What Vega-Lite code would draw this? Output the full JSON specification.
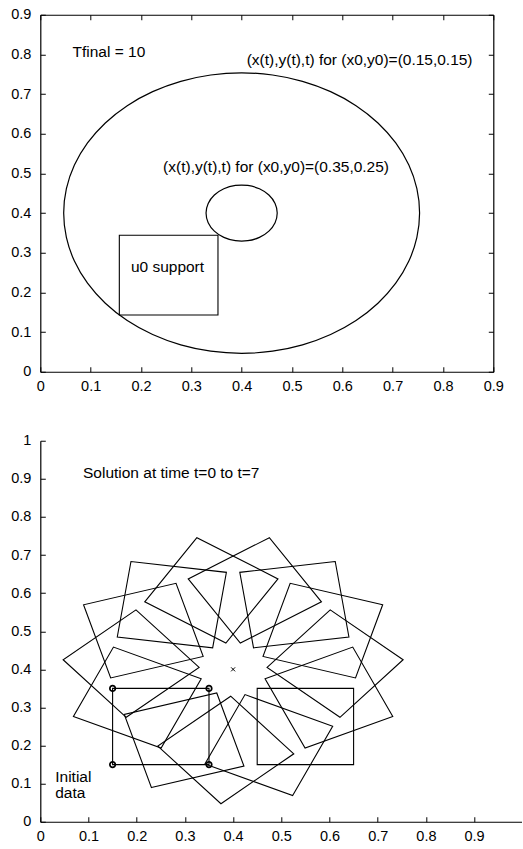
{
  "$schema": "https://vega.github.io/schema/vega-lite/v6.json",
  "autosize": {"type": "pad"},
  "padding": {"left": 10.3, "top": 6.75, "right": 0, "bottom": 0},
  "background": "white",
  "spacing": 69,
  "bounds": "flush",
  "config": {
    "font": "Liberation Sans",
    "view": {"stroke": null},
    "axis": {
      "domainColor": "#000",
      "domainWidth": 1.2,
      "tickColor": "#000",
      "tickWidth": 1,
      "tickSize": -5,
      "labelColor": "#000",
      "labelFont": "Liberation Sans",
      "labelFontSize": 14.5,
      "labelFlush": false,
      "labelOverlap": false,
      "grid": false
    },
    "axisX": {"labelPadding": 12.5},
    "axisY": {"labelPadding": 14.5},
    "text": {"font": "Liberation Sans", "fontSize": 15.5, "color": "#000", "align": "left", "baseline": "middle"}
  },
  "datasets": {
    "ringOuter": [
      {"deg": 0, "x": 0.75355, "y": 0.4},
      {"deg": 10, "x": 0.74818, "y": 0.46139},
      {"deg": 20, "x": 0.73223, "y": 0.52092},
      {"deg": 30, "x": 0.70619, "y": 0.57678},
      {"deg": 40, "x": 0.67084, "y": 0.62726},
      {"deg": 50, "x": 0.62726, "y": 0.67084},
      {"deg": 60, "x": 0.57678, "y": 0.70619},
      {"deg": 70, "x": 0.52092, "y": 0.73223},
      {"deg": 80, "x": 0.46139, "y": 0.74818},
      {"deg": 90, "x": 0.4, "y": 0.75355},
      {"deg": 100, "x": 0.33861, "y": 0.74818},
      {"deg": 110, "x": 0.27908, "y": 0.73223},
      {"deg": 120, "x": 0.22322, "y": 0.70619},
      {"deg": 130, "x": 0.17274, "y": 0.67084},
      {"deg": 140, "x": 0.12916, "y": 0.62726},
      {"deg": 150, "x": 0.09381, "y": 0.57678},
      {"deg": 160, "x": 0.06777, "y": 0.52092},
      {"deg": 170, "x": 0.05182, "y": 0.46139},
      {"deg": 180, "x": 0.04645, "y": 0.4},
      {"deg": 190, "x": 0.05182, "y": 0.33861},
      {"deg": 200, "x": 0.06777, "y": 0.27908},
      {"deg": 210, "x": 0.09381, "y": 0.22322},
      {"deg": 220, "x": 0.12916, "y": 0.17274},
      {"deg": 230, "x": 0.17274, "y": 0.12916},
      {"deg": 240, "x": 0.22322, "y": 0.09381},
      {"deg": 250, "x": 0.27908, "y": 0.06777},
      {"deg": 260, "x": 0.33861, "y": 0.05182},
      {"deg": 270, "x": 0.4, "y": 0.04645},
      {"deg": 280, "x": 0.46139, "y": 0.05182},
      {"deg": 290, "x": 0.52092, "y": 0.06777},
      {"deg": 300, "x": 0.57678, "y": 0.09381},
      {"deg": 310, "x": 0.62726, "y": 0.12916},
      {"deg": 320, "x": 0.67084, "y": 0.17274},
      {"deg": 330, "x": 0.70619, "y": 0.22322},
      {"deg": 340, "x": 0.73223, "y": 0.27908},
      {"deg": 350, "x": 0.74818, "y": 0.33861}
    ],
    "ringInner": [
      {"deg": 0, "x": 0.47071, "y": 0.4},
      {"deg": 20, "x": 0.46645, "y": 0.42418},
      {"deg": 40, "x": 0.45417, "y": 0.44545},
      {"deg": 60, "x": 0.43536, "y": 0.46124},
      {"deg": 80, "x": 0.41228, "y": 0.46964},
      {"deg": 100, "x": 0.38772, "y": 0.46964},
      {"deg": 120, "x": 0.36464, "y": 0.46124},
      {"deg": 140, "x": 0.34583, "y": 0.44545},
      {"deg": 160, "x": 0.33355, "y": 0.42418},
      {"deg": 180, "x": 0.32929, "y": 0.4},
      {"deg": 200, "x": 0.33355, "y": 0.37582},
      {"deg": 220, "x": 0.34583, "y": 0.35455},
      {"deg": 240, "x": 0.36464, "y": 0.33876},
      {"deg": 260, "x": 0.38772, "y": 0.33036},
      {"deg": 280, "x": 0.41228, "y": 0.33036},
      {"deg": 300, "x": 0.43536, "y": 0.33876},
      {"deg": 320, "x": 0.45417, "y": 0.35455},
      {"deg": 340, "x": 0.46645, "y": 0.37582}
    ],
    "support": [
      {"i": 0, "x": 0.157, "y": 0.143},
      {"i": 1, "x": 0.353, "y": 0.143},
      {"i": 2, "x": 0.353, "y": 0.344},
      {"i": 3, "x": 0.157, "y": 0.344}
    ],
    "notesTop": [
      {"x": 0.064, "y": 0.805, "label": "Tfinal = 10"},
      {"x": 0.410, "y": 0.787, "label": "(x(t),y(t),t) for (x0,y0)=(0.15,0.15)"},
      {"x": 0.244, "y": 0.517, "label": "(x(t),y(t),t) for (x0,y0)=(0.35,0.25)"},
      {"x": 0.180, "y": 0.264, "label": "u0 support"}
    ],
    "squares": [
      {"t": 0, "i": 0, "x": 0.15, "y": 0.15},
      {"t": 0, "i": 1, "x": 0.35, "y": 0.15},
      {"t": 0, "i": 2, "x": 0.35, "y": 0.35},
      {"t": 0, "i": 3, "x": 0.15, "y": 0.35},
      {"t": 0.5, "i": 0, "x": 0.0687, "y": 0.2764},
      {"t": 0.5, "i": 1, "x": 0.2507, "y": 0.1934},
      {"t": 0.5, "i": 2, "x": 0.3338, "y": 0.3753},
      {"t": 0.5, "i": 3, "x": 0.1518, "y": 0.4584},
      {"t": 1, "i": 0, "x": 0.0474, "y": 0.4252},
      {"t": 1, "i": 1, "x": 0.1783, "y": 0.2741},
      {"t": 1, "i": 2, "x": 0.3295, "y": 0.4050},
      {"t": 1, "i": 3, "x": 0.1985, "y": 0.5562},
      {"t": 1.5, "i": 0, "x": 0.0897, "y": 0.5694},
      {"t": 1.5, "i": 1, "x": 0.1460, "y": 0.3775},
      {"t": 1.5, "i": 2, "x": 0.3379, "y": 0.4339},
      {"t": 1.5, "i": 3, "x": 0.2816, "y": 0.6258},
      {"t": 2, "i": 0, "x": 0.1881, "y": 0.6830},
      {"t": 2, "i": 1, "x": 0.1597, "y": 0.4851},
      {"t": 2, "i": 2, "x": 0.3576, "y": 0.4566},
      {"t": 2, "i": 3, "x": 0.3861, "y": 0.6546},
      {"t": 2.5, "i": 0, "x": 0.3249, "y": 0.7455},
      {"t": 2.5, "i": 1, "x": 0.2167, "y": 0.5772},
      {"t": 2.5, "i": 2, "x": 0.3850, "y": 0.4691},
      {"t": 2.5, "i": 3, "x": 0.4931, "y": 0.6374},
      {"t": 3, "i": 0, "x": 0.4752, "y": 0.7455},
      {"t": 3, "i": 1, "x": 0.3069, "y": 0.6374},
      {"t": 3, "i": 2, "x": 0.4150, "y": 0.4691},
      {"t": 3, "i": 3, "x": 0.5833, "y": 0.5772},
      {"t": 3.5, "i": 0, "x": 0.6119, "y": 0.6830},
      {"t": 3.5, "i": 1, "x": 0.4139, "y": 0.6546},
      {"t": 3.5, "i": 2, "x": 0.4424, "y": 0.4566},
      {"t": 3.5, "i": 3, "x": 0.6403, "y": 0.4851},
      {"t": 4, "i": 0, "x": 0.7103, "y": 0.5694},
      {"t": 4, "i": 1, "x": 0.5184, "y": 0.6258},
      {"t": 4, "i": 2, "x": 0.4621, "y": 0.4339},
      {"t": 4, "i": 3, "x": 0.6540, "y": 0.3775},
      {"t": 4.5, "i": 0, "x": 0.7527, "y": 0.4252},
      {"t": 4.5, "i": 1, "x": 0.6015, "y": 0.5562},
      {"t": 4.5, "i": 2, "x": 0.4705, "y": 0.4050},
      {"t": 4.5, "i": 3, "x": 0.6217, "y": 0.2741},
      {"t": 5, "i": 0, "x": 0.7313, "y": 0.2764},
      {"t": 5, "i": 1, "x": 0.6482, "y": 0.4584},
      {"t": 5, "i": 2, "x": 0.4663, "y": 0.3753},
      {"t": 5, "i": 3, "x": 0.5493, "y": 0.1934},
      {"t": 5.5, "i": 0, "x": 0.65, "y": 0.15},
      {"t": 5.5, "i": 1, "x": 0.65, "y": 0.35},
      {"t": 5.5, "i": 2, "x": 0.45, "y": 0.35},
      {"t": 5.5, "i": 3, "x": 0.45, "y": 0.15},
      {"t": 6, "i": 0, "x": 0.5236, "y": 0.0687},
      {"t": 6, "i": 1, "x": 0.6066, "y": 0.2507},
      {"t": 6, "i": 2, "x": 0.4247, "y": 0.3338},
      {"t": 6, "i": 3, "x": 0.3416, "y": 0.1518},
      {"t": 6.5, "i": 0, "x": 0.3748, "y": 0.0474},
      {"t": 6.5, "i": 1, "x": 0.5259, "y": 0.1783},
      {"t": 6.5, "i": 2, "x": 0.3950, "y": 0.3295},
      {"t": 6.5, "i": 3, "x": 0.2438, "y": 0.1985},
      {"t": 7, "i": 0, "x": 0.2306, "y": 0.0897},
      {"t": 7, "i": 1, "x": 0.4225, "y": 0.1460},
      {"t": 7, "i": 2, "x": 0.3661, "y": 0.3379},
      {"t": 7, "i": 3, "x": 0.1742, "y": 0.2816}
    ],
    "corners": [
      {"x": 0.15, "y": 0.15},
      {"x": 0.35, "y": 0.15},
      {"x": 0.35, "y": 0.35},
      {"x": 0.15, "y": 0.35}
    ],
    "centre": [{"x": 0.4, "y": 0.4}],
    "notesBottom": [
      {"x": 0.0886, "y": 0.915, "label": "Solution at time t=0 to t=7"},
      {"x": 0.031, "y": 0.1175, "label": "Initial\ndata"}
    ]
  },
  "vconcat": [
    {
      "width": 453,
      "height": 357,
      "resolve": {"axis": {"x": "independent", "y": "independent"}},
      "layer": [
        {
          "data": {"name": "ringOuter"},
          "mark": {"type": "line", "interpolate": "cardinal-closed", "color": "#000", "strokeWidth": 1.2},
          "encoding": {
            "x": {"field": "x", "type": "quantitative", "scale": {"domain": [0, 0.9], "nice": false, "zero": false},
                  "axis": {"orient": "bottom", "title": null, "format": "~g", "values": [0, 0.1, 0.2, 0.3, 0.4, 0.5, 0.6, 0.7, 0.8, 0.9]}},
            "y": {"field": "y", "type": "quantitative", "scale": {"domain": [0, 0.9], "nice": false, "zero": false},
                  "axis": {"orient": "left", "title": null, "format": "~g", "values": [0, 0.1, 0.2, 0.3, 0.4, 0.5, 0.6, 0.7, 0.8, 0.9]}},
            "order": {"field": "deg", "type": "quantitative"}
          }
        },
        {
          "data": {"name": "ringInner"},
          "mark": {"type": "line", "interpolate": "cardinal-closed", "color": "#000", "strokeWidth": 1.2},
          "encoding": {
            "x": {"field": "x", "type": "quantitative", "scale": {"domain": [0, 0.9], "nice": false, "zero": false},
                  "axis": {"orient": "top", "title": null, "labels": false, "values": [0, 0.1, 0.2, 0.3, 0.4, 0.5, 0.6, 0.7, 0.8, 0.9]}},
            "y": {"field": "y", "type": "quantitative", "scale": {"domain": [0, 0.9], "nice": false, "zero": false},
                  "axis": {"orient": "right", "title": null, "labels": false, "values": [0, 0.1, 0.2, 0.3, 0.4, 0.5, 0.6, 0.7, 0.8, 0.9]}},
            "order": {"field": "deg", "type": "quantitative"}
          }
        },
        {
          "data": {"name": "support"},
          "mark": {"type": "line", "interpolate": "linear-closed", "color": "#000", "strokeWidth": 1.1},
          "encoding": {
            "x": {"field": "x", "type": "quantitative", "scale": {"domain": [0, 0.9], "nice": false, "zero": false}, "axis": null},
            "y": {"field": "y", "type": "quantitative", "scale": {"domain": [0, 0.9], "nice": false, "zero": false}, "axis": null},
            "order": {"field": "i", "type": "quantitative"}
          }
        },
        {
          "data": {"name": "notesTop"},
          "mark": {"type": "text"},
          "encoding": {
            "x": {"field": "x", "type": "quantitative", "scale": {"domain": [0, 0.9], "nice": false, "zero": false}, "axis": null},
            "y": {"field": "y", "type": "quantitative", "scale": {"domain": [0, 0.9], "nice": false, "zero": false}, "axis": null},
            "text": {"field": "label"}
          }
        }
      ]
    },
    {
      "width": 482,
      "height": 381,
      "encoding": {
        "x": {"field": "x", "type": "quantitative", "scale": {"domain": [0, 1], "nice": false, "zero": false},
              "axis": {"orient": "bottom", "title": null, "format": "~g", "values": [0, 0.1, 0.2, 0.3, 0.4, 0.5, 0.6, 0.7, 0.8, 0.9]}},
        "y": {"field": "y", "type": "quantitative", "scale": {"domain": [0, 1], "nice": false, "zero": false},
              "axis": {"orient": "left", "title": null, "format": "~g", "values": [0, 0.1, 0.2, 0.3, 0.4, 0.5, 0.6, 0.7, 0.8, 0.9, 1]}}
      },
      "layer": [
        {
          "data": {"name": "squares"},
          "mark": {"type": "line", "interpolate": "linear-closed", "color": "#000", "strokeWidth": 1.1},
          "encoding": {
            "detail": {"field": "t", "type": "nominal"},
            "order": {"field": "i", "type": "quantitative"}
          }
        },
        {
          "data": {"name": "corners"},
          "mark": {"type": "point", "shape": "circle", "filled": false, "size": 30, "strokeWidth": 1.7, "color": "#000", "opacity": 1}
        },
        {
          "data": {"name": "centre"},
          "mark": {"type": "point", "shape": "M-1,-1L1,1M-1,1L1,-1", "filled": false, "size": 16, "strokeWidth": 1, "color": "#000", "opacity": 1}
        },
        {
          "data": {"name": "notesBottom"},
          "mark": {"type": "text", "lineBreak": "\n", "lineHeight": 15.6},
          "encoding": {
            "text": {"field": "label"}
          }
        }
      ]
    }
  ]
}
